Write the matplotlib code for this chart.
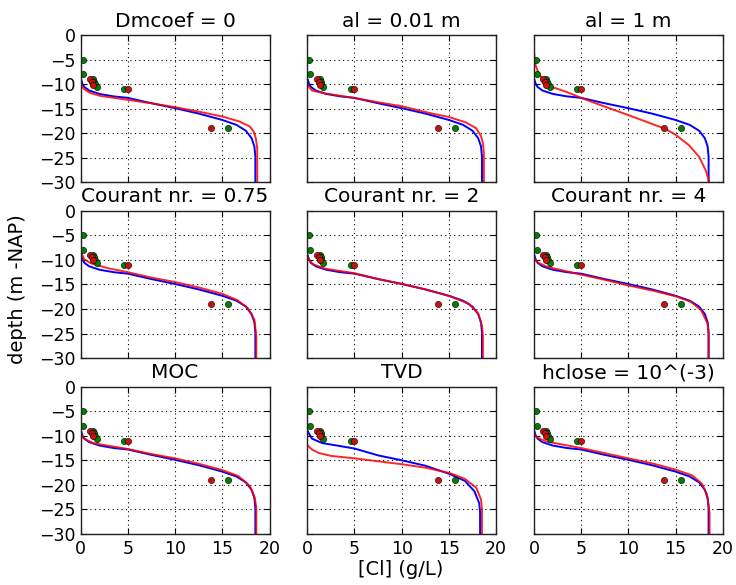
import numpy as np
import matplotlib
matplotlib.use("Agg")
import matplotlib.pyplot as plt

plt.rcParams.update({
    'font.family': 'DejaVu Sans',
    'font.size': 12.5,
    'xtick.direction': 'in',
    'ytick.direction': 'in',
    'xtick.top': True,
    'ytick.right': True,
    'xtick.major.size': 4,
    'ytick.major.size': 4,
    'xtick.major.pad': 4,
    'axes.linewidth': 1.0,
})

# %%
# panel titles
titles = ['Dmcoef = 0', 'al = 0.01 m', 'al = 1 m',
          'Courant nr. = 0.75', 'Courant nr. = 2', 'Courant nr. = 4',
          'MOC', 'TVD', 'hclose = 10^(-3)']

# reference run (blue) - concentration (g/L) vs depth (m)
blue_c = [0.0, 0.1, 0.2, 0.4, 0.9, 2.0, 3.5, 5.0, 7.5, 10.0, 12.5, 15.0, 16.5, 17.5, 18.1, 18.4, 18.5, 18.5]
blue_d = [-8.8, -9.4, -10.0, -10.6, -11.3, -12.0, -12.5, -12.8, -13.9, -14.9, -16.0, -17.3, -18.3, -19.5, -21.0, -22.7, -24.8, -30.0]

# TVD panel has its own reference run
blue_tvd_c = [0.0, 0.1, 0.5, 1.6, 5.0, 7.5, 10.0, 12.5, 15.1, 16.7, 17.7, 18.2, 18.3, 18.3]
blue_tvd_d = [-8.8, -9.3, -10.6, -11.5, -12.6, -14.0, -15.0, -16.1, -17.8, -19.2, -21.3, -23.7, -25.5, -30.0]

# variant runs (red)
red1_c = [0.0, 0.1, 0.35, 1.0, 2.1, 5.0, 7.5, 10.0, 12.5, 15.0, 16.8, 17.9, 18.3, 18.55, 18.7, 18.7]
red1_d = [-9.8, -10.2, -11.0, -11.8, -12.4, -13.2, -13.9, -14.7, -15.6, -16.6, -17.6, -18.6, -19.6, -21.0, -23.0, -30.0]

red2_c = [0.0, 0.1, 0.5, 1.9, 4.9, 7.5, 10.0, 13.0, 15.0, 16.8, 17.9, 18.4, 18.6, 18.7, 18.7]
red2_d = [-9.8, -10.4, -11.3, -11.9, -12.8, -13.7, -14.5, -15.9, -16.7, -17.8, -19.0, -20.6, -22.0, -24.0, -30.0]

red3_c = [0.0, 0.18, 0.54, 1.07, 2.1, 3.6, 5.0, 7.1, 10.0, 13.9, 15.0, 16.4, 17.5, 18.2, 18.6]
red3_d = [-3.5, -6.2, -8.0, -9.3, -10.7, -11.7, -12.8, -14.3, -16.3, -19.1, -20.3, -22.4, -24.8, -27.6, -30.0]

red4_c = [0.0, 0.14, 0.4, 1.1, 2.9, 5.0, 7.5, 10.0, 12.7, 15.0, 16.6, 17.7, 18.4, 18.6, 18.6]
red4_d = [-8.2, -8.9, -9.9, -10.7, -11.7, -12.5, -13.6, -14.5, -15.7, -16.9, -18.2, -19.8, -22.2, -25.5, -30.0]

red5_c = [0.0, 0.1, 0.5, 1.9, 5.0, 7.5, 10.1, 12.5, 15.1, 17.1, 18.1, 18.5, 18.6, 18.6]
red5_d = [-9.0, -9.6, -10.8, -11.8, -12.7, -13.9, -14.9, -16.0, -17.4, -18.9, -20.9, -23.5, -25.5, -30.0]

red6_c = [0.0, 0.1, 0.36, 1.4, 5.0, 7.4, 10.0, 12.7, 15.0, 16.6, 17.7, 18.4, 18.5, 18.5]
red6_d = [-9.4, -9.8, -10.5, -11.4, -13.0, -14.0, -15.2, -16.3, -17.4, -18.5, -20.2, -23.0, -25.0, -30.0]

red7_c = [0.0, 0.1, 0.28, 1.3, 5.0, 7.4, 10.0, 12.5, 15.0, 16.7, 17.9, 18.4, 18.6, 18.6]
red7_d = [-9.2, -9.8, -10.5, -11.5, -12.7, -13.7, -14.6, -15.7, -17.0, -18.2, -20.2, -22.4, -24.5, -30.0]

red8_c = [0.0, 0.1, 0.5, 1.2, 2.5, 5.0, 7.5, 10.0, 12.5, 15.1, 16.7, 17.9, 18.4, 18.5, 18.5]
red8_d = [-11.8, -12.1, -12.8, -13.5, -14.1, -14.6, -15.2, -15.8, -16.5, -17.6, -18.8, -20.6, -23.0, -25.0, -30.0]

red9_c = [0.0, 0.1, 0.35, 1.4, 5.0, 7.4, 10.0, 12.7, 15.0, 16.8, 17.8, 18.3, 18.5, 18.6, 18.6]
red9_d = [-9.4, -9.8, -10.4, -11.2, -12.5, -13.5, -14.6, -15.7, -16.9, -18.1, -19.8, -21.8, -24.0, -25.7, -30.0]

red_c = [red1_c, red2_c, red3_c, red4_c, red5_c, red6_c, red7_c, red8_c, red9_c]
red_d = [red1_d, red2_d, red3_d, red4_d, red5_d, red6_d, red7_d, red8_d, red9_d]

# measurements
obs_green_c = [0.2, 0.3, 1.3, 1.4, 1.5, 1.7, 4.6, 15.6]
obs_green_d = [-5.0, -8.0, -9.0, -9.5, -10.0, -10.6, -11.0, -19.0]
obs_red_c = [1.0, 1.2, 1.3, 5.0, 13.8]
obs_red_d = [-9.0, -9.5, -10.1, -11.0, -19.0]

# %%
fig, axes = plt.subplots(3, 3, sharex=True, sharey=True, figsize=(7.36, 5.85), dpi=100)
fig.subplots_adjust(left=0.1096, right=0.982, bottom=0.0872, top=0.9402,
                    wspace=0.2, hspace=0.193)

for i, ax in enumerate(axes.flat):
    if i == 7:
        ax.plot(blue_tvd_c, blue_tvd_d, color='b', lw=1.4)
    else:
        ax.plot(blue_c, blue_d, color='b', lw=1.4)
    ax.plot(red_c[i], red_d[i], color='r', lw=1.4, alpha=0.85)
    ax.plot(obs_green_c, obs_green_d, 'o', color='g', mec='k', mew=0.4, ms=4.5)
    ax.plot(obs_red_c, obs_red_d, 'o', color='#cc1010', mec='k', mew=0.4, ms=4.5)
    ax.set_title(titles[i], fontsize=14.5)
    ax.grid(True, color='k', linestyle=(0, (1, 3)), linewidth=0.8)
    ax.set_xlim(0, 20)
    ax.set_ylim(-30, 0)
    ax.set_xticks(np.arange(0, 21, 5))
    ax.set_yticks(np.arange(-30, 1, 5))
    for s in ax.spines.values():
        s.set_color('#222222')

fig.text(0.024, 0.505, 'depth (m -NAP)', rotation=90, va='center', ha='center', fontsize=14)
fig.text(0.545, 0.027, '[Cl] (g/L)', va='center', ha='center', fontsize=14)

plt.savefig('out.png', dpi=100)
